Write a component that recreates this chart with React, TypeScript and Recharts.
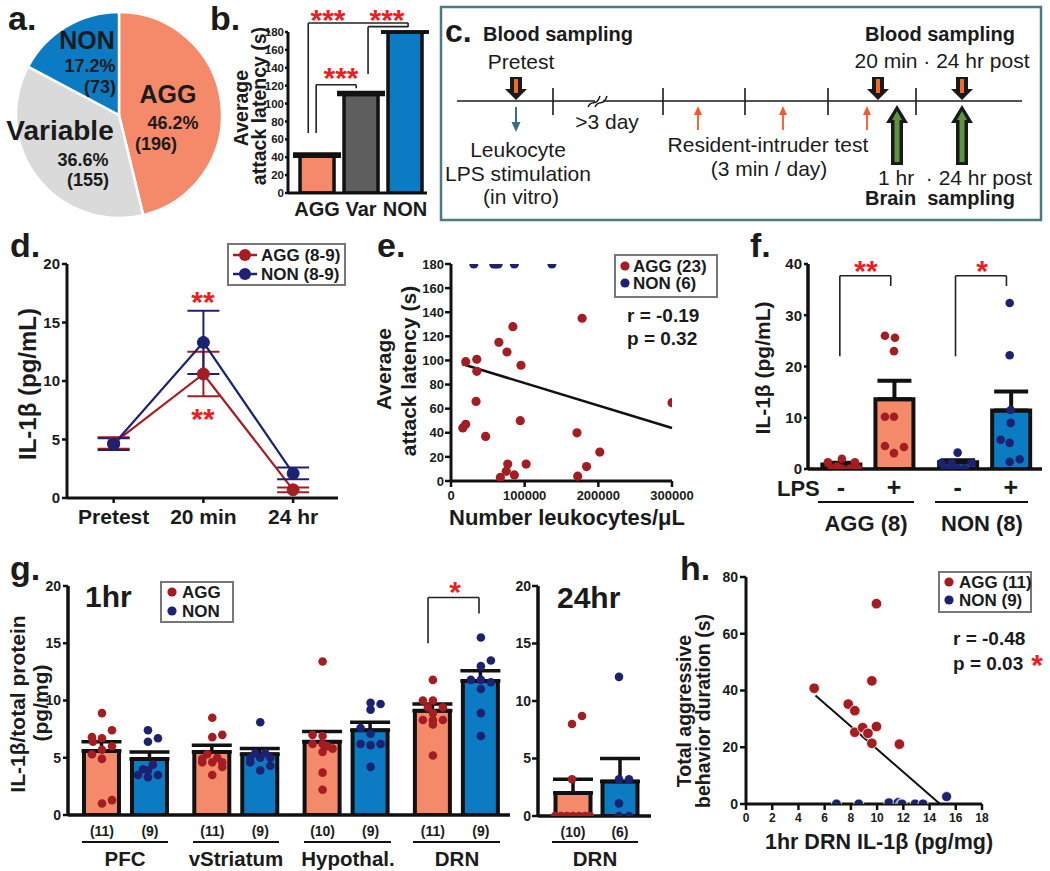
import React from 'react';
import {
  PieChart,
  Pie,
  Cell,
  ComposedChart,
  Bar,
  Line,
  Scatter,
  XAxis,
  YAxis,
  ErrorBar,
  ReferenceLine,
  ReferenceDot,
} from 'recharts';

const FONT = '"Liberation Sans", Arial, Helvetica, sans-serif';
const INK = '#1b1b1b';
const SALMON = '#F48A69';
const BLUE = '#0B7BC3';
const LIGHTGREY = '#DADADA';
const DARKGREY = '#5E5E5E';
const DOT_RED = '#A31D22';
const DOT_NAVY = '#1D2270';
const STAR_RED = '#EE1D23';

// a. behavioural groups
const aGroups = ['AGG', 'Variable', 'NON'];
const aCounts = [196, 155, 73];
const aPercents = ['46.2%', '36.6%', '17.2%'];

// b. average attack latency (s)
const bGroups = ['AGG', 'Var', 'NON'];
const bLatency = [41, 110, 180];
const bSem = [2.5, 2.5, 0];

// d. plasma IL-1b (pg/mL)
const dTimes = ['Pretest', '20 min', '24 hr'];
const dAgg = [4.7, 10.6, 0.7];
const dAggSem = [0.5, 1.9, 0.2];
const dNon = [4.6, 13.3, 2.1];
const dNonSem = [0.5, 2.7, 0.5];

// e. leukocytes vs latency
const eAggLeuk = [16000, 20000, 20000, 35000, 35000, 34000, 47000, 65000, 76000, 84000, 95000, 94000, 67000, 75000, 77000, 86000, 102000, 171000, 178000, 172000, 184000, 202000, 300000];
const eAggLatency = [44, 47, 99, 101, 91, 66, 37, 115, 107, 128, 96, 50, 3, 8, 14, 5, 14, 40, 135, 4, 12, 24, 65];
const eNonLeuk = [31000, 58000, 61000, 64000, 86000, 137000];
const eNonLatency = [180, 180, 180, 180, 180, 180];
const eFitX = [15000, 300000];
const eFitY = [97, 44];

// f. LPS stimulated leukocytes
const fSigns = ['-', '+', '-', '+'];
const fMean = [0.9, 13.6, 1.3, 11.4];
const fSem = [0.3, 3.6, 0.4, 3.7];
const fAggMinus = [1.3, 2.0, 1.3, 0.1, 0.1, 0.1, 0.5, 0.1];
const fAggPlus = [26.0, 25.6, 23.0, 10.2, 10.2, 4.5, 3.1, 4.3];
const fNonMinus = [3.2, 1.2, 1.2, 1.2, 0.1, 0.1, 0.1, 0.5];
const fNonPlus = [32.4, 22.2, 11.5, 9.0, 5.7, 5.1, 1.4, 1.9];

// g. brain IL-1b, 1 hr
const gRegions = ['PFC', 'vStriatum', 'Hypothal.', 'DRN'];
const gAggMean = [5.6, 5.5, 6.4, 9.1];
const gAggSem = [0.8, 0.6, 0.9, 0.6];
const gNonMean = [4.9, 5.3, 7.4, 11.7];
const gNonSem = [0.6, 0.5, 0.7, 0.9];
const gAggN = [11, 11, 10, 11];
const gNonN = [9, 9, 9, 9];
const gAggDots = [
  [8.9, 6.8, 6.7, 7.4, 6.4, 6.0, 5.7, 5.3, 4.9, 1.0, 1.3],
  [8.5, 6.8, 7.0, 4.6, 4.6, 4.6, 5.3, 5.0, 4.2, 3.5, 4.9],
  [13.4, 7.0, 6.9, 6.2, 6.2, 5.8, 6.0, 5.5, 3.7, 2.2],
  [11.8, 10.0, 10.0, 9.4, 9.4, 8.9, 8.3, 8.3, 8.3, 7.9, 5.2],
];
const gNonDots = [
  [7.4, 6.4, 6.7, 4.0, 4.4, 3.5, 3.3, 3.5, 3.9],
  [8.1, 5.0, 5.0, 5.0, 5.4, 3.9, 4.3, 5.4, 4.6],
  [9.8, 9.7, 9.2, 7.6, 7.1, 6.2, 6.1, 6.2, 4.2],
  [15.5, 13.5, 13.0, 11.8, 11.8, 11.6, 11.0, 8.9, 6.9],
];

// g. DRN, 24 hr
const g24Mean = [2.0, 3.0];
const g24Sem = [1.2, 2.0];
const g24N = [10, 6];
const g24Agg = [8.7, 8.0, 3.2, 0, 0, 0, 0, 0, 0, 0];
const g24Non = [12.1, 3.2, 3.2, 1.1, 0, 0];

// h. DRN IL-1b vs aggression
const hAggIl = [5.2, 7.8, 8.3, 8.3, 8.9, 9.3, 9.6, 9.6, 9.95, 9.95, 11.7];
const hAggDur = [40.8, 35.2, 32.9, 25.3, 26.9, 24.9, 43.4, 21.4, 70.6, 27.3, 21.1];
const hNonIl = [6.9, 8.6, 10.9, 11.6, 11.8, 11.9, 12.9, 13.5, 15.3];
const hNonDur = [0, 0, 0.4, 0.5, 0, 0, 0, 0, 2.6];
const hFitX = [5.3, 14.8];
const hFitY = [38.2, 0];

// ---- layout (jitter of dots in px, bar positions, brackets)
const F_UNIT = 53;
const fPos = [1, 2, 3.2, 4.2];
const fJitter = [
  [-13, 1, 14, -9, 1, 9, -4, 17],
  [-9, 1, 0, -9, 0, -9, 0, 10],
  [0, -16, -6, 14, -13, 0, 7, -6],
  [-1, -1, 0, 0, -10, -1, -1, 9],
];
const G_UNIT = 110.3;
const G_PAIR = 0.435;
const gAggJit = [
  [0, -10, 0, 10, -9, 10, 0, -10, 0, 0, 10],
  [0, 0, 10, -10, 0, 10, -5, 5, 10, 0, -10],
  [0, -10, 0, -10, 0, 10, 5, 0, 0, 0],
  [0, -10, 0, 10, -5, 0, -10, 0, 10, 0, 0],
];
const gNonJit = [
  [-2, -2, 8, -7, 3, -12, -2, 8, -2],
  [0, -10, 0, 10, 5, 0, 10, -5, -10],
  [0, 10, 0, -10, 0, -10, 0, 10, 0],
  [0, 10, 0, -10, 0, 10, 0, 0, 0],
];
const G2_UNIT = 47;
const g24AggJit = [9, -1, -1, -18, -12, -6, 0, 6, 12, 17];
const g24NonJit = [-1, -1, 9, -1, -1, 9];

const bBrackets = [
  [[0.8, 67], [0.8, 190], [3.07, 190], [3.07, 185.5]],
  [[2.16, 133], [2.16, 186], [3.07, 186]],
  [[0.98, 67], [0.98, 121], [1.89, 121], [1.89, 117]],
];
const fBrackets = [
  [[0.98, 22], [0.98, 37.7], [1.94, 37.7], [1.94, 35.7]],
  [[3.16, 22], [3.16, 37.7], [4.12, 37.7], [4.12, 35.7]],
];
const gBrackets = [[[2.956, 15.0], [2.956, 19.0], [3.418, 19.0], [3.418, 17.6]]];

// c. timeline schematic (page px)
const cTicks = [553, 663, 745, 828, 916];
const cBloodDraws = [516, 878, 962];
const cBrainDraws = [897, 962];
const cIntruderTests = [698, 783, 867];

// ---- derived series
const bData = bGroups.map((g, i) => ({ x: i + 1, y: bLatency[i], err: [0, bSem[i]] }));
const dData = dTimes.map((t, i) => ({ x: i, agg: dAgg[i], aggErr: dAggSem[i], non: dNon[i], nonErr: dNonSem[i] }));
const eAgg = eAggLeuk.map((x, i) => ({ x, y: eAggLatency[i] }));
const eNon = eNonLeuk.map((x, i) => ({ x, y: eNonLatency[i] }));
const fBarData = fMean.map((m, i) => ({ x: fPos[i], y: m, err: [0, fSem[i]] }));
const fGroups = [fAggMinus, fAggPlus, fNonMinus, fNonPlus];
const fDots = (k: number) => fGroups[k].map((v, j) => ({ x: fPos[k] + fJitter[k][j] / F_UNIT, y: v }));
const gBarData = gRegions.flatMap((r, i) => [
  { x: i, y: gAggMean[i], err: [0, gAggSem[i]], n: gAggN[i] },
  { x: i + G_PAIR, y: gNonMean[i], err: [0, gNonSem[i]], n: gNonN[i] },
]);
const gAggPts = gAggDots.flatMap((vals, i) => vals.map((v, j) => ({ x: i + gAggJit[i][j] / G_UNIT, y: v })));
const gNonPts = gNonDots.flatMap((vals, i) => vals.map((v, j) => ({ x: i + G_PAIR + gNonJit[i][j] / G_UNIT, y: v })));
const g24Data = g24Mean.map((m, i) => ({ x: i, y: m, err: [0, g24Sem[i]], n: g24N[i] }));
const g24AggPts = g24Agg.map((v, j) => ({ x: g24AggJit[j] / G2_UNIT, y: v }));
const g24NonPts = g24Non.map((v, j) => ({ x: 1 + g24NonJit[j] / G2_UNIT, y: v }));
const hAgg = hAggIl.map((x, i) => ({ x, y: hAggDur[i] }));
const hNon = hNonIl.map((x, i) => ({ x, y: hNonDur[i] }));

const ax = { stroke: '#111', strokeWidth: 3 };
const tl = { stroke: '#111', strokeWidth: 2.5 };
const tk = (s: number) => ({ fontSize: s, fontWeight: 700, fill: INK, fontFamily: FONT });

function place(x0: number, x1: number, y0: number, y1: number, yw: number, xh: number, p: number[]) {
  const [t, r, b, l] = p;
  return {
    left: x0 - yw - l,
    top: y0 - t,
    width: x1 - x0 + yw + l + r,
    height: y1 - y0 + xh + t + b,
    margin: { top: t, right: r, bottom: b, left: l },
  };
}

const dot = (r: number, fill: string, stroke = 'none') => (p: any) => (
  <circle cx={p.cx} cy={p.cy} r={r} fill={fill} stroke={stroke} strokeWidth={0.8} />
);

function bracket(pts: number[][], key: string) {
  return pts.slice(1).map((p, i) => (
    <ReferenceLine
      key={key + i}
      segment={[{ x: pts[i][0], y: pts[i][1] }, { x: p[0], y: p[1] }]}
      stroke="#222"
      strokeWidth={1.6}
      ifOverflow="visible"
    />
  ));
}

function PanelA() {
  const data = aGroups.map((g, i) => ({ name: g, value: aCounts[i] }));
  const fills = [SALMON, LIGHTGREY, BLUE];
  return (
    <div style={{ position: 'absolute', left: 0, top: 0 }}>
      <PieChart width={240} height={232} margin={{ top: 0, right: 0, bottom: 0, left: 0 }}>
        <Pie data={data} dataKey="value" cx={119} cy={115} outerRadius={103} startAngle={90} endAngle={-270}
          stroke="#fff" strokeWidth={2.5} isAnimationActive={false} labelLine={false}>
          {data.map((d, i) => <Cell key={i} fill={fills[i]} />)}
        </Pie>
      </PieChart>
    </div>
  );
}

function PanelB() {
  const f = place(288, 427, 32, 193, 36, 30, [30, 10, 4, 4]);
  const fills = [SALMON, DARKGREY, BLUE];
  return (
    <div style={{ position: 'absolute', left: f.left, top: f.top }}>
      <ComposedChart width={f.width} height={f.height} margin={f.margin} data={bData}>
        <XAxis type="number" dataKey="x" domain={[0.34, 3.5]} ticks={[1, 2, 3]} interval={0}
          tickFormatter={(v: number) => bGroups[Math.round(v) - 1]} axisLine={ax} tickLine={false}
          tickSize={0} tickMargin={9} height={30} tick={tk(20)} allowDataOverflow />
        <YAxis type="number" domain={[0, 180]} ticks={[0, 20, 40, 60, 80, 100, 120, 140, 160, 180]} interval={0}
          width={36} axisLine={ax} tickLine={tl} tickSize={3} tickMargin={1} tick={tk(11.5)} allowDataOverflow />
        <Bar dataKey="y" barSize={34} stroke="#111" strokeWidth={3.5} isAnimationActive={false}>
          {bData.map((d, i) => <Cell key={i} fill={fills[i]} />)}
          <ErrorBar dataKey="err" direction="y" width={24} stroke="#111" strokeWidth={3.5} />
        </Bar>
        {bBrackets.map((b, i) => bracket(b, 'b' + i))}
      </ComposedChart>
    </div>
  );
}

const BloodArrow = ({ cx, cy }: any) => (
  <g>
    <path d={`M${cx - 6},${cy - 23} H${cx + 6} V${cy - 11} H${cx + 11} L${cx},${cy} L${cx - 11},${cy - 11} H${cx - 6} Z`} fill="#1a1a1a" />
    <rect x={cx - 2} y={cy - 21} width={4} height={14} fill="#F26B22" />
  </g>
);
const BrainArrow = ({ cx, cy }: any) => (
  <g>
    <path d={`M${cx},${cy} L${cx + 11},${cy + 18} H${cx + 6} V${cy + 60} H${cx - 6} V${cy + 18} H${cx - 11} Z`} fill="#1a1a1a" />
    <path d={`M${cx},${cy + 6} L${cx + 5},${cy + 15} H${cx + 2.5} V${cy + 57} H${cx - 2.5} V${cy + 15} H${cx - 5} Z`} fill="#5E9440" />
  </g>
);
const TestArrow = ({ cx, cy }: any) => (
  <g>
    <line x1={cx} y1={cy + 7} x2={cx} y2={cy + 24} stroke="#F15A29" strokeWidth={1.8} />
    <path d={`M${cx},${cy} L${cx + 4},${cy + 9} L${cx - 4},${cy + 9} Z`} fill="#F15A29" />
  </g>
);
const LpsArrow = ({ cx, cy }: any) => (
  <g>
    <line x1={cx} y1={cy - 25} x2={cx} y2={cy - 8} stroke="#3D6E7B" strokeWidth={2} />
    <path d={`M${cx},${cy} L${cx + 4.5},${cy - 10} L${cx - 4.5},${cy - 10} Z`} fill="#3D6E7B" />
  </g>
);
const BreakMark = ({ cx, cy }: any) => (
  <g fill="none" stroke="#1a1a1a" strokeWidth={1.5}>
    <rect x={cx - 5} y={cy - 3} width={8} height={6} fill="#fff" stroke="none" />
    <path d={`M${cx - 12},${cy + 6} C${cx - 8},${cy - 3} ${cx - 4},${cy + 7} ${cx},${cy - 5}`} />
    <path d={`M${cx - 5},${cy + 6} C${cx - 1},${cy - 3} ${cx + 3},${cy + 7} ${cx + 7},${cy - 5}`} />
  </g>
);

function PanelC() {
  const line = [{ x: 457, y: 101 }, { x: 1022, y: 101 }];
  return (
    <div style={{ position: 'absolute', left: 441, top: 7 }}>
      <ComposedChart width={600} height={213} margin={{ top: 0, right: 0, bottom: 0, left: 0 }} data={line}>
        <XAxis hide type="number" dataKey="x" domain={[441, 1041]} allowDataOverflow />
        <YAxis hide type="number" domain={[7, 220]} reversed allowDataOverflow />
        <Line dataKey="y" stroke="#1a1a1a" strokeWidth={1.6} dot={false} isAnimationActive={false} />
        {cTicks.map((x) => (
          <ReferenceLine key={'t' + x} segment={[{ x, y: 88 }, { x, y: 115 }]} stroke="#1a1a1a" strokeWidth={1.6} />
        ))}
        <ReferenceDot x={600} y={101} r={1} shape={(p: any) => <BreakMark cx={p.cx} cy={p.cy} />} />
        {cIntruderTests.map((x) => (
          <ReferenceDot key={'r' + x} x={x} y={106} r={1} shape={(p: any) => <TestArrow cx={p.cx} cy={p.cy} />} />
        ))}
        <ReferenceDot x={516} y={132} r={1} shape={(p: any) => <LpsArrow cx={p.cx} cy={p.cy} />} />
        {cBrainDraws.map((x) => (
          <ReferenceDot key={'g' + x} x={x} y={105} r={1} shape={(p: any) => <BrainArrow cx={p.cx} cy={p.cy} />} />
        ))}
        {cBloodDraws.map((x) => (
          <ReferenceDot key={'o' + x} x={x} y={100} r={1} shape={(p: any) => <BloodArrow cx={p.cx} cy={p.cy} />} />
        ))}
      </ComposedChart>
    </div>
  );
}

function PanelD() {
  const f = place(67, 338, 264, 498, 40, 36, [8, 10, 4, 4]);
  return (
    <div style={{ position: 'absolute', left: f.left, top: f.top }}>
      <ComposedChart width={f.width} height={f.height} margin={f.margin} data={dData}>
        <XAxis type="number" dataKey="x" domain={[-0.52, 2.5]} ticks={[0, 1, 2]} interval={0}
          tickFormatter={(v: number) => dTimes[Math.round(v)]} axisLine={ax} tickLine={tl} tickSize={5}
          tickMargin={6} height={36} tick={tk(21)} allowDataOverflow />
        <YAxis type="number" domain={[0, 20]} ticks={[0, 5, 10, 15, 20]} interval={0} width={40}
          axisLine={ax} tickLine={tl} tickSize={5} tickMargin={2} tick={tk(15)} allowDataOverflow />
        <Line dataKey="agg" stroke={DOT_RED} strokeWidth={2.2} isAnimationActive={false}
          dot={{ r: 6, fill: DOT_RED, stroke: DOT_RED, strokeWidth: 1 }}>
          <ErrorBar dataKey="aggErr" direction="y" width={16} stroke={DOT_RED} strokeWidth={2} />
        </Line>
        <Line dataKey="non" stroke={DOT_NAVY} strokeWidth={2.2} isAnimationActive={false}
          dot={{ r: 6, fill: DOT_NAVY, stroke: DOT_NAVY, strokeWidth: 1 }}>
          <ErrorBar dataKey="nonErr" direction="y" width={16} stroke={DOT_NAVY} strokeWidth={2} />
        </Line>
      </ComposedChart>
    </div>
  );
}

function PanelE() {
  const f = place(451, 672, 264, 481, 40, 26, [8, 26, 4, 4]);
  return (
    <div style={{ position: 'absolute', left: f.left, top: f.top }}>
      <ComposedChart width={f.width} height={f.height} margin={f.margin}>
        <XAxis type="number" dataKey="x" domain={[0, 300000]} ticks={[0, 100000, 200000, 300000]} interval={0}
          axisLine={ax} tickLine={tl} tickSize={6} tickMargin={4} height={26} tick={tk(13)} allowDataOverflow />
        <YAxis type="number" dataKey="y" domain={[0, 180]} ticks={[0, 20, 40, 60, 80, 100, 120, 140, 160, 180]}
          interval={0} width={40} axisLine={ax} tickLine={tl} tickSize={6} tickMargin={1} tick={tk(13)} allowDataOverflow />
        <ReferenceLine segment={[{ x: eFitX[0], y: eFitY[0] }, { x: eFitX[1], y: eFitY[1] }]} stroke="#111" strokeWidth={2.5} />
        <Scatter data={eAgg} shape={dot(4.6, DOT_RED)} isAnimationActive={false} />
        <Scatter data={eNon} shape={dot(4.6, DOT_NAVY)} isAnimationActive={false} />
      </ComposedChart>
    </div>
  );
}

function PanelF() {
  const f = place(808, 1042, 264, 469, 36, 32, [8, 6, 2, 2]);
  const fills = [SALMON, SALMON, BLUE, BLUE];
  const dom = [0.38, 4.79];
  return (
    <div style={{ position: 'absolute', left: f.left, top: f.top }}>
      <ComposedChart width={f.width} height={f.height} margin={f.margin} data={fBarData}>
        <XAxis type="number" dataKey="x" domain={dom} ticks={fPos} interval={0}
          tickFormatter={(v: number, i: number) => fSigns[i]} axisLine={{ stroke: '#111', strokeWidth: 3.5 }}
          tickLine={false} tickSize={0} tickMargin={9} height={32} tick={tk(25)} allowDataOverflow />
        <XAxis xAxisId="pts" hide type="number" dataKey="x" domain={dom} allowDataOverflow />
        <YAxis type="number" dataKey="y" domain={[0, 40]} ticks={[0, 10, 20, 30, 40]} interval={0} width={36}
          axisLine={{ stroke: '#111', strokeWidth: 3.5 }} tickLine={tl} tickSize={4} tickMargin={2} tick={tk(15)} allowDataOverflow />
        <Bar dataKey="y" barSize={38} stroke="#111" strokeWidth={4} isAnimationActive={false}>
          {fBarData.map((d, i) => <Cell key={i} fill={fills[i]} />)}
          <ErrorBar dataKey="err" direction="y" width={17} stroke="#111" strokeWidth={4} />
        </Bar>
        <Scatter xAxisId="pts" data={[...fDots(0), ...fDots(1)]} shape={dot(4.3, DOT_RED)} isAnimationActive={false} />
        <Scatter xAxisId="pts" data={[...fDots(2), ...fDots(3)]} shape={dot(4.3, DOT_NAVY)} isAnimationActive={false} />
        {fBrackets.map((b, i) => bracket(b, 'f' + i))}
      </ComposedChart>
    </div>
  );
}

function PanelG1() {
  const f = place(68, 510, 586, 815, 36, 26, [8, 4, 2, 2]);
  const dom = [-0.308, 3.699];
  return (
    <div style={{ position: 'absolute', left: f.left, top: f.top }}>
      <ComposedChart width={f.width} height={f.height} margin={f.margin} data={gBarData}>
        <XAxis type="number" dataKey="x" domain={dom} ticks={gBarData.map((d) => d.x)} interval={0}
          tickFormatter={(v: number, i: number) => `(${gBarData[i] ? gBarData[i].n : ''})`}
          axisLine={{ stroke: '#111', strokeWidth: 3.5 }} tickLine={false} tickSize={0} tickMargin={11}
          height={26} tick={tk(14)} allowDataOverflow />
        <XAxis xAxisId="pts" hide type="number" dataKey="x" domain={dom} allowDataOverflow />
        <YAxis type="number" dataKey="y" domain={[0, 20]} ticks={[0, 5, 10, 15, 20]} interval={0} width={36}
          axisLine={{ stroke: '#111', strokeWidth: 3.5 }} tickLine={tl} tickSize={5} tickMargin={2} tick={tk(14)} allowDataOverflow />
        <Bar dataKey="y" barSize={35} stroke="#111" strokeWidth={4} isAnimationActive={false}>
          {gBarData.map((d, i) => <Cell key={i} fill={i % 2 === 0 ? SALMON : BLUE} />)}
          <ErrorBar dataKey="err" direction="y" width={20} stroke="#111" strokeWidth={3.5} />
        </Bar>
        <Scatter xAxisId="pts" data={gAggPts} shape={dot(4.3, DOT_RED)} isAnimationActive={false} />
        <Scatter xAxisId="pts" data={gNonPts} shape={dot(4.3, DOT_NAVY)} isAnimationActive={false} />
        {gBrackets.map((b, i) => bracket(b, 'g' + i))}
      </ComposedChart>
    </div>
  );
}

function PanelG24() {
  const f = place(538, 651, 586, 816, 36, 26, [8, 6, 2, 2]);
  const dom = [-0.745, 1.66];
  return (
    <div style={{ position: 'absolute', left: f.left, top: f.top }}>
      <ComposedChart width={f.width} height={f.height} margin={f.margin} data={g24Data}>
        <XAxis type="number" dataKey="x" domain={dom} ticks={[0, 1]} interval={0}
          tickFormatter={(v: number, i: number) => `(${g24N[i]})`}
          axisLine={{ stroke: '#111', strokeWidth: 3.5 }} tickLine={false} tickSize={0} tickMargin={11}
          height={26} tick={tk(14)} allowDataOverflow />
        <XAxis xAxisId="pts" hide type="number" dataKey="x" domain={dom} allowDataOverflow />
        <YAxis type="number" dataKey="y" domain={[0, 20]} ticks={[0, 5, 10, 15, 20]} interval={0} width={36}
          axisLine={{ stroke: '#111', strokeWidth: 3.5 }} tickLine={tl} tickSize={6} tickMargin={1} tick={tk(14)} allowDataOverflow />
        <Bar dataKey="y" barSize={35} stroke="#111" strokeWidth={4} isAnimationActive={false}>
          {g24Data.map((d, i) => <Cell key={i} fill={i === 0 ? SALMON : BLUE} />)}
          <ErrorBar dataKey="err" direction="y" width={20} stroke="#111" strokeWidth={3.5} />
        </Bar>
        <Scatter xAxisId="pts" data={g24AggPts} shape={dot(4.3, DOT_RED)} isAnimationActive={false} />
        <Scatter xAxisId="pts" data={g24NonPts} shape={dot(4.3, DOT_NAVY)} isAnimationActive={false} />
      </ComposedChart>
    </div>
  );
}

function PanelH() {
  const f = place(746, 982, 577, 804, 36, 26, [8, 8, 2, 2]);
  return (
    <div style={{ position: 'absolute', left: f.left, top: f.top }}>
      <ComposedChart width={f.width} height={f.height} margin={f.margin}>
        <XAxis type="number" dataKey="x" domain={[0, 18]} ticks={[0, 2, 4, 6, 8, 10, 12, 14, 16, 18]} interval={0}
          axisLine={ax} tickLine={tl} tickSize={6} tickMargin={3} height={26} tick={tk(12)} allowDataOverflow />
        <YAxis type="number" dataKey="y" domain={[0, 80]} ticks={[0, 20, 40, 60, 80]} interval={0} width={36}
          axisLine={ax} tickLine={tl} tickSize={6} tickMargin={2} tick={tk(14)} allowDataOverflow />
        <ReferenceLine segment={[{ x: hFitX[0], y: hFitY[0] }, { x: hFitX[1], y: hFitY[1] }]} stroke="#111" strokeWidth={2} />
        <Scatter data={hAgg} shape={dot(5.3, DOT_RED, '#fff')} isAnimationActive={false} />
        <Scatter data={hNon} shape={dot(5.0, DOT_NAVY, '#fff')} isAnimationActive={false} />
      </ComposedChart>
    </div>
  );
}

function T({ x, y, s = 16, w = 700, a = 'middle', c = INK, rot, base, children }: any) {
  return (
    <text x={x} y={y} fontSize={s} fontWeight={w} textAnchor={a} fill={c} fontFamily={FONT}
      dominantBaseline={base ? undefined : 'central'} style={{ whiteSpace: 'pre' }}
      transform={rot ? `rotate(${rot} ${x} ${y})` : undefined}>
      {children}
    </text>
  );
}
const Letter = ({ x, y, s = 34, children }: any) => <T x={x} y={y} s={s} a="start" base>{children}</T>;
const Star = ({ x, y, s = 30, children }: any) => (
  <text x={x} y={y + s * 0.57} fontSize={s} fontWeight={700} textAnchor="middle" fill={STAR_RED} fontFamily={FONT}>{children}</text>
);

const aLabelPos = [
  [[168, 94], [173, 123], [156, 144]],
  [[60, 130], [83, 160], [88, 180]],
  [[87, 40], [90, 66], [100, 87]],
];

function Legend({ x, y, w, h, rows, line }: any) {
  return (
    <g>
      <rect x={x} y={y} width={w} height={h} fill="#fff" stroke="#777" strokeWidth={2} />
      {rows.map((r: any, i: number) => (
        <g key={i}>
          {line && <line x1={r.mx - 12} x2={r.mx + 12} y1={r.y} y2={r.y} stroke={r.c} strokeWidth={2.5} />}
          <circle cx={r.mx} cy={r.y} r={line ? 6 : 4.6} fill={r.c} />
          <T x={r.tx} y={r.y} s={17} a="start">{r.t}</T>
        </g>
      ))}
    </g>
  );
}

function Overlay() {
  const fontN = 21;
  return (
    <svg width={1050} height={871} style={{ position: 'absolute', left: 0, top: 0, pointerEvents: 'none' }}>
      {/* a */}
      <Letter x={8} y={30}>a.</Letter>
      {aGroups.map((g, i) => (
        <g key={g}>
          <T x={aLabelPos[i][0][0]} y={aLabelPos[i][0][1]} s={g === 'Variable' ? 28 : 25}>{g}</T>
          <T x={aLabelPos[i][1][0]} y={aLabelPos[i][1][1]} s={18}>{aPercents[i]}</T>
          <T x={aLabelPos[i][2][0]} y={aLabelPos[i][2][1]} s={18}>{`(${aCounts[i]})`}</T>
        </g>
      ))}

      {/* b */}
      <Letter x={210} y={30}>b.</Letter>
      <T x={241} y={108} s={19.5} rot={-90}>Average</T>
      <T x={259} y={106} s={19.5} rot={-90}>attack latency (s)</T>
      <Star x={328} y={13}>***</Star>
      <Star x={387} y={13}>***</Star>
      <Star x={341} y={71}>***</Star>

      {/* c */}
      <rect x={441} y={7} width={600} height={213} fill="none" stroke="#4E7A86" strokeWidth={2.5} />
      <Letter x={445} y={42} s={32}>c.</Letter>
      <T x={483} y={41} s={20} a="start" base>Blood sampling</T>
      <T x={521} y={69} s={fontN} w={400} base>Pretest</T>
      <T x={607} y={129} s={fontN} w={400} base>{'>3 day'}</T>
      <T x={518} y={157} s={fontN} w={400} base>Leukocyte</T>
      <T x={518} y={181} s={fontN} w={400} base>LPS stimulation</T>
      <T x={521} y={204} s={fontN} w={400} base>(in vitro)</T>
      <T x={768} y={152} s={fontN} w={400} base>Resident-intruder test</T>
      <T x={769} y={176} s={fontN} w={400} base>(3 min / day)</T>
      <T x={940} y={41} s={20} base>Blood sampling</T>
      <T x={942} y={68} s={fontN} w={400} base>{'20 min · 24 hr post'}</T>
      <T x={955} y={185} s={fontN} w={400} base>{'1 hr  · 24 hr post'}</T>
      <T x={940} y={205} s={20} base>{'Brain  sampling'}</T>

      {/* d */}
      <Letter x={10} y={257}>d.</Letter>
      <T x={27} y={384} s={24} rot={-90}>IL-1β (pg/mL)</T>
      <Legend x={228} y={244} w={117} h={41} line rows={[
        { mx: 245, tx: 261, y: 255, c: DOT_RED, t: 'AGG (8-9)' },
        { mx: 245, tx: 261, y: 274, c: DOT_NAVY, t: 'NON (8-9)' },
      ]} />
      <Star x={203} y={295}>**</Star>
      <Star x={203} y={412}>**</Star>

      {/* e */}
      <Letter x={377} y={257}>e.</Letter>
      <T x={383} y={369} s={21} rot={-90}>Average</T>
      <T x={408} y={371} s={21} rot={-90}>attack latency (s)</T>
      <T x={567} y={517} s={22}>Number leukocytes/μL</T>
      <Legend x={615} y={255} w={102} h={42} rows={[
        { mx: 625, tx: 633, y: 266, c: DOT_RED, t: 'AGG (23)' },
        { mx: 625, tx: 633, y: 283, c: DOT_NAVY, t: 'NON (6)' },
      ]} />
      <T x={627} y={315} s={19} a="start">r = -0.19</T>
      <T x={627} y={338} s={19} a="start">p = 0.32</T>

      {/* f */}
      <Letter x={750} y={257}>f.</Letter>
      <T x={762} y={368} s={21} rot={-90}>IL-1β (pg/mL)</T>
      <T x={777} y={488} s={22} a="start">LPS</T>
      <line x1={818} x2={914} y1={502} y2={502} stroke="#111" strokeWidth={2} />
      <line x1={935} x2={1028} y1={502} y2={502} stroke="#111" strokeWidth={2} />
      <T x={866} y={523} s={22}>AGG (8)</T>
      <T x={982} y={523} s={22}>NON (8)</T>
      <Star x={866} y={264}>**</Star>
      <Star x={982} y={264}>*</Star>

      {/* g */}
      <Letter x={10} y={580}>g.</Letter>
      <T x={17} y={704} s={21} rot={-90}>IL-1β/total protein</T>
      <T x={40} y={703} s={21} rot={-90}>(pg/mg)</T>
      <T x={85} y={596} s={30} a="start">1hr</T>
      <Legend x={161} y={582} w={72} h={40} rows={[
        { mx: 172, tx: 182, y: 592, c: DOT_RED, t: 'AGG' },
        { mx: 172, tx: 182, y: 611, c: DOT_NAVY, t: 'NON' },
      ]} />
      <Star x={455} y={585}>*</Star>
      {[[82, 168], [193, 279], [304, 391], [413, 500], [552, 638]].map(([a, b], i) => (
        <line key={i} x1={a} x2={b} y1={842} y2={842} stroke="#111" strokeWidth={2} />
      ))}
      {[125, 236, 348, 457].map((x, i) => (
        <T key={i} x={x} y={858} s={20.5}>{gRegions[i]}</T>
      ))}
      <T x={595} y={858} s={20.5}>DRN</T>
      <T x={557} y={597} s={30} a="start">24hr</T>

      {/* h */}
      <Letter x={680} y={580}>h.</Letter>
      <T x={684} y={711} s={19.5} rot={-90}>Total aggressive</T>
      <T x={703} y={711} s={19.5} rot={-90}>behavior duration (s)</T>
      <T x={879} y={842} s={21.5}>1hr DRN IL-1β (pg/mg)</T>
      <Legend x={939} y={572} w={92} h={40} rows={[
        { mx: 949, tx: 959, y: 582, c: DOT_RED, t: 'AGG (11)' },
        { mx: 949, tx: 959, y: 600, c: DOT_NAVY, t: 'NON (9)' },
      ]} />
      <T x={953} y={638} s={19} a="start">r = -0.48</T>
      <T x={953} y={663} s={19} a="start">p = 0.03</T>
      <Star x={1037} y={658}>*</Star>
    </svg>
  );
}

export default function App() {
  return (
    <div style={{ position: 'absolute', left: 0, top: 0, width: 1050, height: 871, background: '#fff', overflow: 'hidden', fontFamily: FONT }}>
      <PanelA />
      <PanelB />
      <PanelC />
      <PanelD />
      <PanelE />
      <PanelF />
      <PanelG1 />
      <PanelG24 />
      <PanelH />
      <Overlay />
    </div>
  );
}
